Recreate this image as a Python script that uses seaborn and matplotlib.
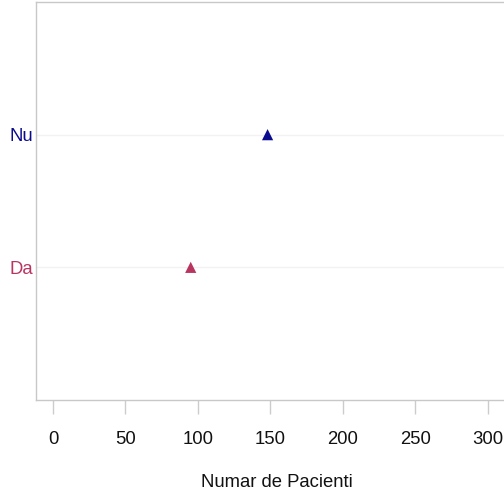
import matplotlib
matplotlib.use("Agg")
import matplotlib.pyplot as plt
import seaborn as sns
import pandas as pd

categories = ["Nu", "Da"]
values = [148, 95]
colors = ["#0B0B8E", "#B83560"]
x_ticks = [0, 50, 100, 150, 200, 250, 300]
x_label = "Numar de Pacienti"

sns.set_theme(style="white")
plt.rcParams['font.family'] = ['Liberation Sans', 'DejaVu Sans']

df = pd.DataFrame({"cat": categories, "val": values})

W, H = 504, 493
fig = plt.figure(figsize=(W / 100, H / 100), dpi=100)
left, right = 36, 517
top, bottom = 2, 400
ax = fig.add_axes([left / W, 1 - bottom / H, (right - left) / W, (bottom - top) / H])

sns.scatterplot(data=df, x="val", y="cat", hue="cat", palette=dict(zip(categories, colors)),
                marker="^", s=65, edgecolor="none", legend=False, ax=ax)

ax.set_ylim(2.0, -1.0)
ax.set_xlim(-11.7, 320)
ax.set_xticks(x_ticks)
ax.set_xticklabels([str(t) for t in x_ticks], fontsize=13.3)
ax.set_yticks([0, 1])
ax.set_yticklabels(categories, fontsize=13.3)
for lbl, c in zip(ax.get_yticklabels(), colors):
    lbl.set_color(c)
for lbl in ax.get_xticklabels():
    lbl.set_color("#111111")

ax.tick_params(axis="x", direction="out", length=10, width=1, color="#CCCCCC", pad=12, bottom=True)
ax.tick_params(axis="y", length=0, pad=2)
ax.set_xlabel(x_label, fontsize=13.3, color="#111111", labelpad=19)
ax.set_ylabel("")

for y in [0, 1]:
    ax.axhline(y, color="#F2F2F2", lw=1, zorder=0)

for s in ["left", "top", "bottom"]:
    ax.spines[s].set_color("#C8C8C8")
    ax.spines[s].set_linewidth(1)
ax.spines["right"].set_visible(False)

fig.savefig("out.png", dpi=100)
